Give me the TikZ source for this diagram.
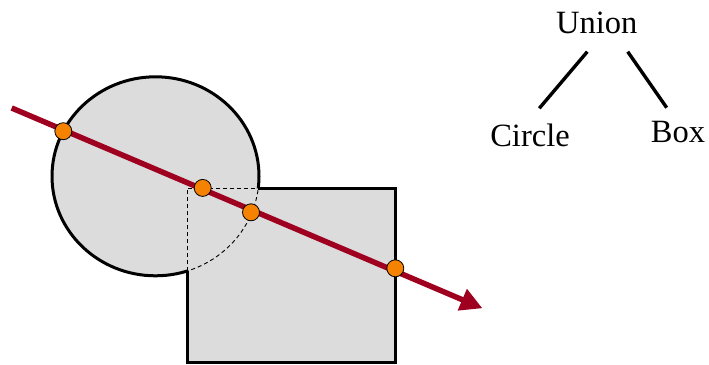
\documentclass[tikz,border=0pt]{standalone}
\usepackage{fontspec}
\setmainfont{Liberation Serif}
\usetikzlibrary{calc,arrows.meta}
\definecolor{shapegray}{RGB}{220,220,220}
\definecolor{raycol}{RGB}{160,0,32}
\definecolor{hitcol}{RGB}{245,130,0}
\tikzset{
  solidline/.style={draw=black, line width=3pt},
  dashline/.style={draw=black, line width=0.9pt, dash pattern=on 4pt off 3pt},
  hitdot/.style={circle, fill=hitcol, draw=black, line width=0.8pt, minimum size=17pt, inner sep=0pt},
  label/.style={font=\fontsize{32.5}{38}\selectfont, inner sep=0pt, anchor=base},
  treeline/.style={draw=black, line width=3.4pt},
  ray/.style={draw=raycol, line width=5.5pt, -{Triangle[length=22pt,width=22pt]}}
}
\begin{document}
\begin{tikzpicture}[x=1pt,y=-1pt]
\useasboundingbox (0,0) rectangle (709,364);
% fills
\fill[shapegray] (155.5,176.3) ellipse [x radius=103.5, y radius=99.5];
\fill[shapegray] (187,188.3) rectangle (395.5,362.3);
% dashed hidden parts
\begin{scope}
  \clip (187,188.3) rectangle (395.5,362);
  \path[dashline] (155.5,176.3) ellipse [x radius=103.5, y radius=99.5];
\end{scope}
\path[dashline] (187,271) -- (187,188.3) -- (258.2,188.3);
% solid outlines
\begin{scope}
  \clip (-10,-10) -- (720,-10) -- (720,188.3) -- (187,188.3) -- (187,380) -- (-10,380) -- cycle;
  \path[solidline] (155.5,176.3) ellipse [x radius=103.5, y radius=99.5];
\end{scope}
\path[solidline] (258.2,188.3) -- (395.5,188.3) -- (395.5,362.3) -- (187,362.3) -- (187,271);
% ray
\coordinate (raystart) at (11.7,108);
\coordinate (rayend) at (482.5,308.3);
\path[ray] (raystart) -- (rayend);
% hit points
\node[hitdot] (h1) at (63.3,131.2) {};
\node[hitdot] (h2) at (202.7,187.9) {};
\node[hitdot] (h3) at (251,212.3) {};
\node[hitdot] (h4) at (395.3,268.3) {};
% tree
\node[label] (union) at (596.7,33.3) {Union};
\node[label] (circ) at (530,146.7) {Circle};
\node[label] (boxn) at (678,142.7) {Box};
\path[treeline] ($(union.base)+(-9.4,18.4)$) -- ($(circ.base)+(9.3,-38.4)$);
\path[treeline] ($(union.base)+(31,18.4)$) -- ($(boxn.base)+(-11.3,-35)$);
\end{tikzpicture}
\end{document}
